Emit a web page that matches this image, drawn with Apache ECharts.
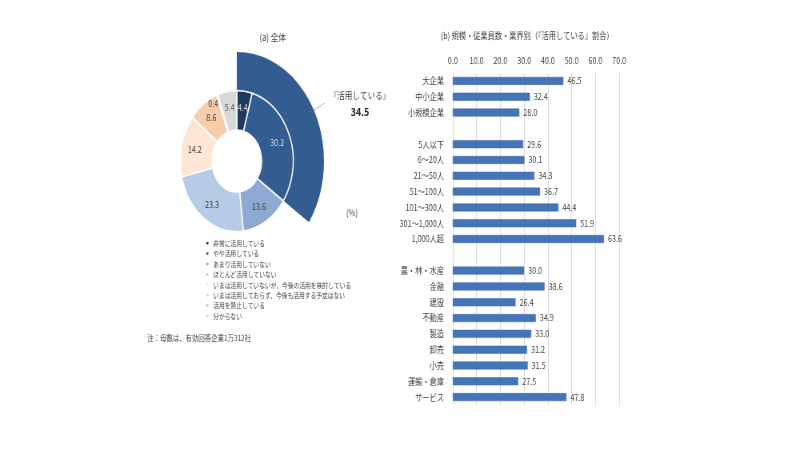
<!DOCTYPE html>
<html>
<head>
<meta charset="utf-8">
<script src="https://cdn.jsdelivr.net/npm/echarts@6/dist/echarts.min.js"></script>
<style>
  html, body { margin: 0; padding: 0; background: #fff; overflow: hidden; }
  #wrap { width: 800px; height: 450px; overflow: hidden; }
  /* 元の図は横方向に縮んでいるので、1000px で描いて 0.8 倍にする */
  #main { width: 1000px; height: 450px; transform: scaleX(0.8); transform-origin: 0 0; }
</style>
</head>
<body>
<div id="wrap"><div id="main"></div></div>
<script>
// (a) 全体
var usageNames = [
  '非常に活用している',
  'やや活用している',
  'あまり活用していない',
  'ほとんど活用していない',
  'いまは活用していないが、今後の活用を検討している',
  'いまは活用しておらず、今後も活用する予定はない',
  '活用を禁止している',
  '分からない'
];
var usageValues = [4.4, 30.2, 13.6, 23.3, 14.2, 8.6, 0.4, 5.4];
var usageColors = ['#1f3a60', '#335c91', '#8eaad3', '#b7cbe6', '#fce6d6', '#f8cda9', '#f4b183', '#d9d9d9'];
var usageLabelColors = ['#d9dde6', '#d9dde6', '#404040', '#404040', '#404040', '#404040', '#404040', '#595959'];
var usingTotal = 34.5;

// (b) 規模・従業員数・業界別
var groupCats = [
  '大企業', '中小企業', '小規模企業', '',
  '5人以下', '6～20人', '21～50人', '51～100人', '101～300人', '301～1,000人', '1,000人超', '',
  '農・林・水産', '金融', '建設', '不動産', '製造', '卸売', '小売', '運輸・倉庫', 'サービス'
];
var groupValues = [
  46.5, 32.4, 28.0, null,
  29.6, 30.1, 34.3, 36.7, 44.4, 51.9, 63.6, null,
  30.0, 38.6, 26.4, 34.9, 33.0, 31.2, 31.5, 27.5, 47.8
];
var xTicks = [0, 10, 20, 30, 40, 50, 60, 70];

var font = '"Noto Sans CJK JP", "Noto Sans", sans-serif';
var chart = echarts.init(document.getElementById('main'));

var donutData = usageValues.map(function (v, i) {
  var item = {
    name: usageNames[i],
    value: v,
    itemStyle: { color: usageColors[i] },
    label: { color: usageLabelColors[i] }
  };
  // 細すぎる扇形はラベルが消えるので外側に置く
  if (v < 1) {
    item.label.position = 'outside';
    item.labelLine = { show: false, length: 0, length2: 0 };
  }
  return item;
});

var option = {
  textStyle: { fontFamily: font },
  animation: false,
  legend: {
    orient: 'vertical',
    left: 256,
    top: 238,
    padding: 0,
    itemGap: 0,
    itemWidth: 4.5,
    itemHeight: 4.5,
    icon: 'rect',
    data: usageNames,
    textStyle: { fontSize: 7.2, lineHeight: 10.4, color: '#404040', fontFamily: font }
  },
  grid: { left: 566, right: 226, top: 73, bottom: 45 },
  xAxis: {
    type: 'value',
    position: 'top',
    min: xTicks[0],
    max: xTicks[xTicks.length - 1],
    interval: 10,
    axisLine: { show: false },
    axisTick: { show: false },
    axisLabel: {
      fontSize: 9, color: '#404040', margin: 8,
      formatter: function (v) { return v.toFixed(1); }
    },
    splitLine: { lineStyle: { color: '#d9d9d9', width: 1 } }
  },
  yAxis: {
    type: 'category',
    inverse: true,
    data: groupCats,
    axisLine: { show: true, lineStyle: { color: '#d9d9d9' } },
    axisTick: { show: false },
    axisLabel: { fontSize: 9, color: '#404040', margin: 11, interval: 0 }
  },
  series: [
    {
      // 『活用している』の外側の扇形
      type: 'pie',
      center: [296, 161],
      radius: [70.5, 109],
      silent: true,
      label: { show: false },
      labelLine: { show: false },
      data: [
        { name: '『活用している』', value: usingTotal, itemStyle: { color: '#335c91' } },
        { name: '', value: 100 - usingTotal, itemStyle: { color: 'rgba(0,0,0,0)' } }
      ]
    },
    {
      type: 'pie',
      center: [296, 161],
      radius: [31, 70.5],
      avoidLabelOverlap: false,
      itemStyle: { borderColor: '#fff', borderWidth: 1.5 },
      label: {
        show: true,
        position: 'inside',
        fontSize: 9,
        fontFamily: font,
        formatter: function (p) { return p.value.toFixed(1); }
      },
      labelLine: { show: false },
      labelLayout: function (p) {
        if (usageValues[p.dataIndex] < 1) {
          return { dx: 6, dy: 9 };
        }
      },
      data: donutData
    },
    {
      type: 'bar',
      barWidth: 8,
      data: groupValues,
      itemStyle: { color: '#4674b8', borderColor: '#3a64a0', borderWidth: 0.5 },
      label: {
        show: true,
        position: 'right',
        distance: 5,
        fontSize: 9,
        color: '#404040',
        fontFamily: font,
        formatter: function (p) { return p.value == null ? '' : p.value.toFixed(1); }
      }
    }
  ],
  graphic: [
    { type: 'text', x: 341, y: 37, style: { text: '(a) 全体', fill: '#404040', font: '9.5px ' + font, textAlign: 'center', textVerticalAlign: 'middle' } },
    { type: 'text', x: 659, y: 36, style: { text: '(b) 規模・従業員数・業界別（『活用している』割合）', fill: '#404040', font: '9px ' + font, textAlign: 'center', textVerticalAlign: 'middle' } },
    { type: 'line', shape: { x1: 377, y1: 118, x2: 406, y2: 103 }, style: { stroke: '#a6a6a6', lineWidth: 0.8 } },
    { type: 'text', x: 450, y: 95, style: { text: '『活用している』', fill: '#404040', font: '9.5px ' + font, textAlign: 'center', textVerticalAlign: 'middle' } },
    { type: 'text', x: 450, y: 112, style: { text: usingTotal.toFixed(1), fill: '#262626', font: 'bold 11px ' + font, textAlign: 'center', textVerticalAlign: 'middle' } },
    { type: 'text', x: 440, y: 213, style: { text: '(%)', fill: '#404040', font: '9px ' + font, textAlign: 'center', textVerticalAlign: 'middle' } },
    { type: 'text', x: 184, y: 338, style: { text: '注：母数は、有効回答企業1万312社', fill: '#404040', font: '8px ' + font, textVerticalAlign: 'middle' } }
  ]
};

chart.setOption(option);
</script>
</body>
</html>
